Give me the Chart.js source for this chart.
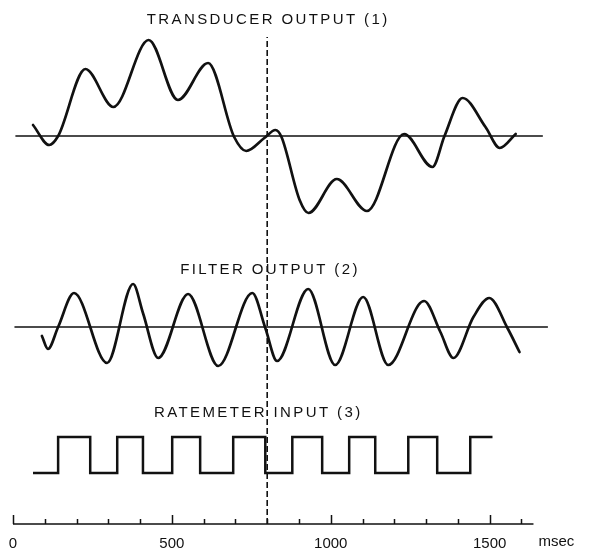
<!DOCTYPE html>
<html>
<head>
<meta charset="utf-8">
<script src="https://cdn.jsdelivr.net/npm/chart.js@4.4.0/dist/chart.umd.min.js"></script>
<style>
  html, body { margin: 0; padding: 0; background: #fff; }
  #wrap { width: 589px; height: 548px; position: relative; }
</style>
</head>
<body>
<div id="wrap"><canvas id="c"></canvas></div>
<script>
'use strict';

// ── Data (time in msec, amplitude in arbitrary units) ──
const transducerMs  = [63, 114, 142, 228, 316, 427, 519, 614, 696, 734, 791, 826, 845, 902, 930, 1019, 1114, 1231, 1320, 1358, 1415, 1487, 1532, 1582];
const transducerVal = [11, -9, 0, 67, 29, 96, 36, 73, -1, -15, -2, 6, -1, -64, -77, -43, -75, 2, -31, 0, 38, 9, -12, 2];

const filterMs  = [91, 110, 142, 192, 296, 378, 409, 457, 551, 646, 753, 794, 831, 929, 1014, 1102, 1181, 1276, 1294, 1345, 1386, 1449, 1499, 1556, 1594];
const filterVal = [-9, -22, 0, 34, -36, 43, 14, -31, 33, -39, 34, -1, -34, 38, -38, 30, -38, 22, 26, -5, -31, 10, 29, -1, -25];

const rateMs    = [63, 142, 243, 328, 409, 501, 589, 693, 794, 879, 973, 1058, 1140, 1244, 1335, 1439, 1509];
const rateLevel = [0, 1, 0, 1, 0, 1, 0, 1, 0, 1, 0, 1, 0, 1, 0, 1, 1];

const transducerZeroSpan = [9, 1666];
const filterZeroSpan     = [6, 1682];
const markerMs = 800;

const tickValues = [0, 100, 200, 300, 400, 500, 600, 700, 800, 900, 1000, 1100, 1200, 1300, 1400, 1500, 1600];
const tickLabels = ['0', '500', '1000', '1500'];
const titles = ['TRANSDUCER OUTPUT (1)', 'FILTER OUTPUT (2)', 'RATEMETER INPUT (3)'];

// ── Layout of the three traces on the shared (hidden) vertical scale ──
const TRANS_BASE = 388, FILT_BASE = 197, RATE_BASE = 51, RATE_STEP = 36;
const MARKER_TOP = 487;
const TITLE_POS = [[803, 504], [809, 254], [772, 111]];
const AXIS_END = 1638;
const INK = '#111';
const FONT = '"Liberation Sans", Arial, sans-serif';

const zeroLine = (span, base) => span.map(x => ({ x, y: base }));

const lineStyle = {
  borderColor: INK, pointRadius: 0, fill: false,
  borderJoinStyle: 'round', borderCapStyle: 'round'
};

const datasets = [
  { ...lineStyle, data: zeroLine(transducerZeroSpan, TRANS_BASE), borderWidth: 1.3 },
  { ...lineStyle, data: transducerMs.map((x, i) => ({ x, y: TRANS_BASE + transducerVal[i] })),
    borderWidth: 2.7, cubicInterpolationMode: 'monotone' },
  { ...lineStyle, data: zeroLine(filterZeroSpan, FILT_BASE), borderWidth: 1.3 },
  { ...lineStyle, data: filterMs.map((x, i) => ({ x, y: FILT_BASE + filterVal[i] })),
    borderWidth: 2.7, cubicInterpolationMode: 'monotone' },
  { ...lineStyle, data: rateMs.map((x, i) => ({ x, y: RATE_BASE + rateLevel[i] * RATE_STEP })),
    borderWidth: 2.5, stepped: 'before', borderJoinStyle: 'miter', borderCapStyle: 'butt' },
  { ...lineStyle, data: [{ x: markerMs, y: 0 }, { x: markerMs, y: MARKER_TOP }],
    borderWidth: 1.6, borderDash: [6, 3], borderCapStyle: 'butt' }
];

// Paper-style axis: ticks point up from the baseline, long every 500 msec
const paperAxis = {
  id: 'paperAxis',
  afterDraw(chart) {
    const { ctx, scales: { x, y } } = chart;
    const y0 = y.getPixelForValue(0);
    ctx.save();
    ctx.strokeStyle = INK;
    ctx.lineWidth = 1.5;
    ctx.beginPath();
    ctx.moveTo(x.getPixelForValue(0), y0);
    ctx.lineTo(x.getPixelForValue(AXIS_END), y0);
    tickValues.forEach(v => {
      const px = Math.round(x.getPixelForValue(v)) + 0.5;
      ctx.moveTo(px, y0);
      ctx.lineTo(px, y0 - (v % 500 === 0 ? 9 : 5));
    });
    ctx.stroke();

    ctx.fillStyle = INK;
    ctx.font = '15px ' + FONT;
    ctx.textBaseline = 'alphabetic';
    ctx.textAlign = 'left';
    ctx.fillText('msec', x.getPixelForValue(AXIS_END) + 5, y0 + 22);

    ctx.letterSpacing = '2.4px';
    ctx.textAlign = 'center';
    ctx.textBaseline = 'middle';
    titles.forEach((t, i) => {
      const [tx, ty] = TITLE_POS[i];
      ctx.fillText(t, x.getPixelForValue(tx), y.getPixelForValue(ty));
    });
    ctx.restore();
  }
};

new Chart(document.getElementById('c'), {
  type: 'line',
  data: { datasets },
  plugins: [paperAxis],
  options: {
    responsive: true,
    maintainAspectRatio: false,
    animation: false,
    devicePixelRatio: 1,
    layout: { padding: { left: 13, right: 39, top: 0, bottom: 0 } },
    plugins: { legend: { display: false }, tooltip: { enabled: false } },
    scales: {
      x: {
        type: 'linear', min: 0, max: 1690,
        border: { display: false },
        grid: { display: false },
        afterBuildTicks: s => { s.ticks = tickValues.map(value => ({ value })); },
        afterFit: s => { s.height = 24; },
        ticks: {
          autoSkip: false, maxRotation: 0, padding: 4,
          color: INK, font: { family: FONT, size: 15, lineHeight: 1 },
          callback: v => tickLabels.includes(String(v)) ? String(v) : ''
        }
      },
      y: { display: false, min: 0, max: 524 }
    }
  }
});
</script>
</body>
</html>
